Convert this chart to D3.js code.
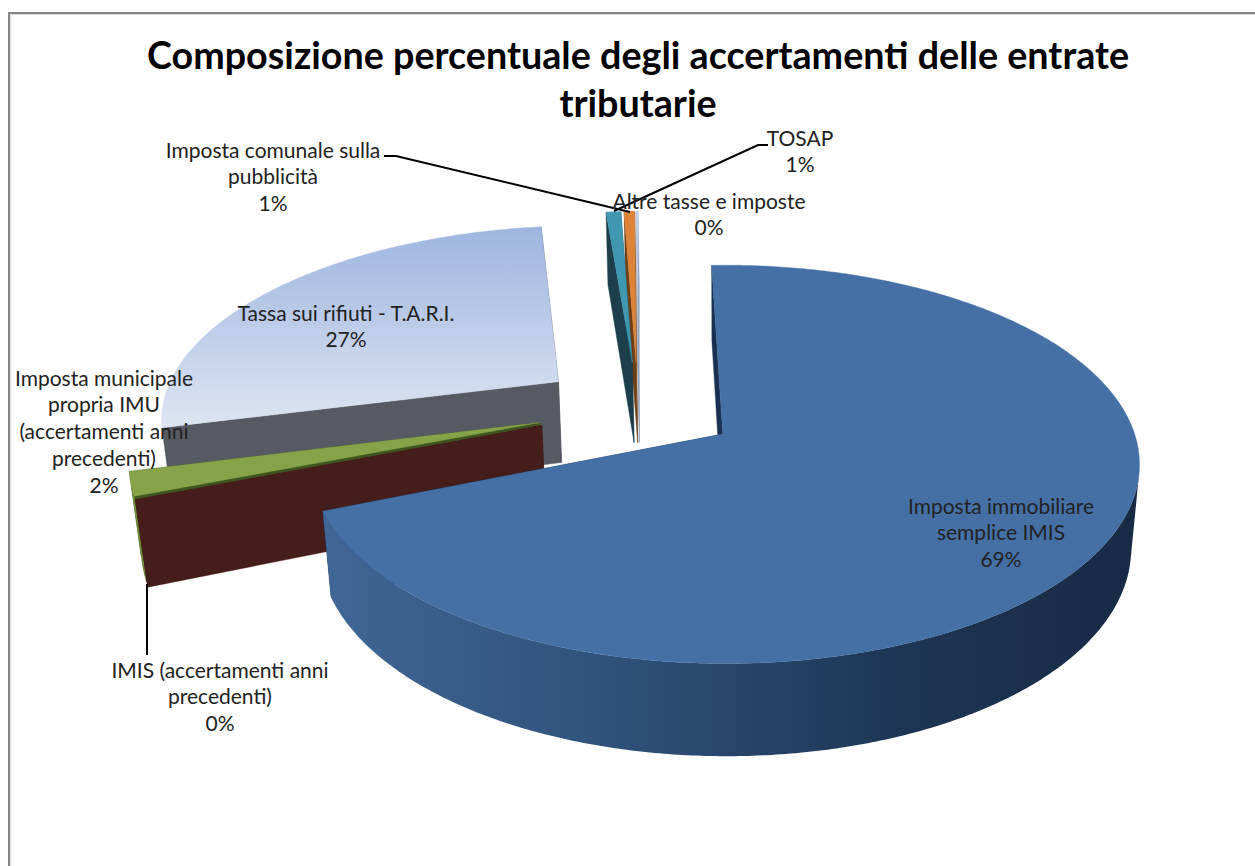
<!DOCTYPE html>
<html><head><meta charset="utf-8">
<script src="https://cdnjs.cloudflare.com/ajax/libs/d3/7.8.5/d3.min.js"></script>
<style>html,body{margin:0;padding:0;background:#fff}svg{display:block}</style>
</head><body><div id="c"></div>
<script>
const titleLines = ["Composizione percentuale degli accertamenti delle entrate", "tributarie"];
const categories = ["Imposta immobiliare semplice IMIS","IMIS (accertamenti anni precedenti)","Imposta municipale propria IMU (accertamenti anni precedenti)","Tassa sui rifiuti - T.A.R.I.","Imposta comunale sulla pubblicità","TOSAP","Altre tasse e imposte"];
const values = [69.35, 0.15, 2.0, 27.2, 0.7, 0.5, 0.08];
const topColors = ["#4470a6","#4a1e1b","#87a34a","url(#tari)","#3f97b0","#dd8338","#bfcfe8"];
const faceColors = ["#1a3050","#451d1a","#3f5520","#565a63","#1c3f4b","#6e3f14","#8d9bb0"];
const wallColors = ["url(#blueWall)","#451d1a","#6f8a38","#565a63","#1c3f4b","#6e3f14","#8d9bb0"];
const drawOrder = [3,6,5,4,2,1,0];
const labels = [
 {lines:["Imposta immobiliare","semplice IMIS","69%"],x:1001,y:513.5},
 {lines:["IMIS (accertamenti anni","precedenti)","0%"],x:220,y:677.5},
 {lines:["Imposta municipale","propria IMU","(accertamenti anni","precedenti)","2%"],x:104,y:385.5},
 {lines:["Tassa sui rifiuti - T.A.R.I.","27%"],x:346,y:320.5},
 {lines:["Imposta comunale sulla","pubblicità","1%"],x:273,y:157.5},
 {lines:["TOSAP","1%"],x:800,y:145.5},
 {lines:["Altre tasse e imposte","0%"],x:709,y:208.5}
];
const leaders = [
 [[384,156],[396,156],[630,212]],
 [[768,145],[758,145],[614,211]],
 [[147,584],[147,655]]
];

const W=1255,H=866;
const svg=d3.select("#c").append("svg").attr("width",W).attr("height",H);
const defs=svg.append("defs");
const g1=defs.append("linearGradient").attr("id","tari").attr("gradientUnits","userSpaceOnUse").attr("x1",0).attr("x2",0).attr("y1",225).attr("y2",420);
g1.append("stop").attr("offset",0).attr("stop-color","#9db5df");
g1.append("stop").attr("offset",1).attr("stop-color","#dbe3f1");
const g2=defs.append("linearGradient").attr("id","blueWall").attr("gradientUnits","userSpaceOnUse").attr("x1",330).attr("x2",1140).attr("y1",0).attr("y2",0);
[[0,"#3f6695"],[0.35,"#2f5179"],[0.7,"#1d3655"],[1,"#172a43"]].forEach(s=>g2.append("stop").attr("offset",s[0]).attr("stop-color",s[1]));

svg.append("path").attr("d",`M10.5,${H}V14.5H${W}`).attr("fill","none").attr("stroke","#dedede").attr("stroke-width",1);
svg.append("path").attr("d",`M9,${H}V13H${W}`).attr("fill","none").attr("stroke","#868686").attr("stroke-width",2);

// perspective camera
const cam={cx:723,cy:434,a:413.5,b:196.5,k:0.1536,j:-0.006,m:0.02,h:85};
function project(u,v,z){
  const s=1/(1+cam.k*v+cam.j*u+cam.m*z);
  return [cam.cx+cam.a*u*s, cam.cy+(-cam.b*v+cam.h*z)*s];
}
const explode=0.25, origin=[-0.21,0.136];
const rot=-1.8*Math.PI/180;
const pie=d3.pie().sort(null).startAngle(rot).endAngle(rot+2*Math.PI)(values);
const line=d3.line();
function area(p){return d3.polygonArea(p);}

pie.forEach(d=>{
  const mid=(d.startAngle+d.endAngle)/2;
  d.ax=origin[0]+explode*Math.sin(mid);
  d.ay=origin[1]+explode*Math.cos(mid);
  d.pt=(t,r,z)=>project(d.ax+r*Math.sin(t),d.ay+r*Math.cos(t),z);
  d.angles=d3.range(0,1.0001,1/Math.max(2,Math.ceil((d.endAngle-d.startAngle)/0.01))).map(f=>d.startAngle+f*(d.endAngle-d.startAngle));
});

const R=0.99;
const gSlices=svg.append("g");
drawOrder.forEach(i=>{
  const d=pie[i], g=gSlices.append("g");
  const apexTop=project(d.ax,d.ay,0), apexBot=project(d.ax,d.ay,1);
  const faces=[d.startAngle,d.endAngle];
  faces.forEach(t=>{
    const poly=[apexTop,d.pt(t,R,0),d.pt(t,R,1),apexBot];
    g.append("path").attr("d",line(poly)+"Z").attr("fill",faceColors[i]).attr("stroke",faceColors[i]).attr("stroke-width",0.4);
  });
  // outer wall: only camera-facing segments
  let run=[];
  const flush=()=>{ if(run.length>1){
      const poly=run.map(t=>d.pt(t,R,0)).concat(run.slice().reverse().map(t=>d.pt(t,R,1)));
      g.append("path").attr("d",line(poly)+"Z").attr("fill",wallColors[i]);
    } run=[]; };
  d.angles.forEach((t,n)=>{
    const next=d.angles[n+1];
    if(next===undefined){flush();return;}
    const quad=[d.pt(t,R,0),d.pt(next,R,0),d.pt(next,R,1),d.pt(t,R,1)];
    if(area(quad)>0){ if(!run.length)run.push(t); run.push(next);} else flush();
  });
  const topPoly=[apexTop].concat(d.angles.map(t=>d.pt(t,R,0)));
  g.append("path").attr("d",line(topPoly)+"Z").attr("fill",topColors[i]).attr("stroke",topColors[i]).attr("stroke-width",0.4);
});

const font="Lato, Carlito, sans-serif";
const gl=svg.append("g");
leaders.forEach(l=>gl.append("path").attr("d",line(l)).attr("fill","none").attr("stroke","#000").attr("stroke-width",2));
const gt=svg.append("g").attr("font-family",font).attr("fill","#222").attr("font-size",21).attr("text-anchor","middle");
labels.forEach(l=>{
  const t=gt.append("text");
  l.lines.forEach((s,n)=>t.append("tspan").attr("x",l.x).attr("y",l.y+n*26.8).text(s));
});
const title=svg.append("g").attr("font-family",font).attr("font-weight",700).attr("font-size",37.7).attr("text-anchor","middle").attr("fill","#000");
titleLines.forEach((s,n)=>title.append("text").attr("x",638).attr("y",[69,117][n]).text(s));
</script></body></html>
